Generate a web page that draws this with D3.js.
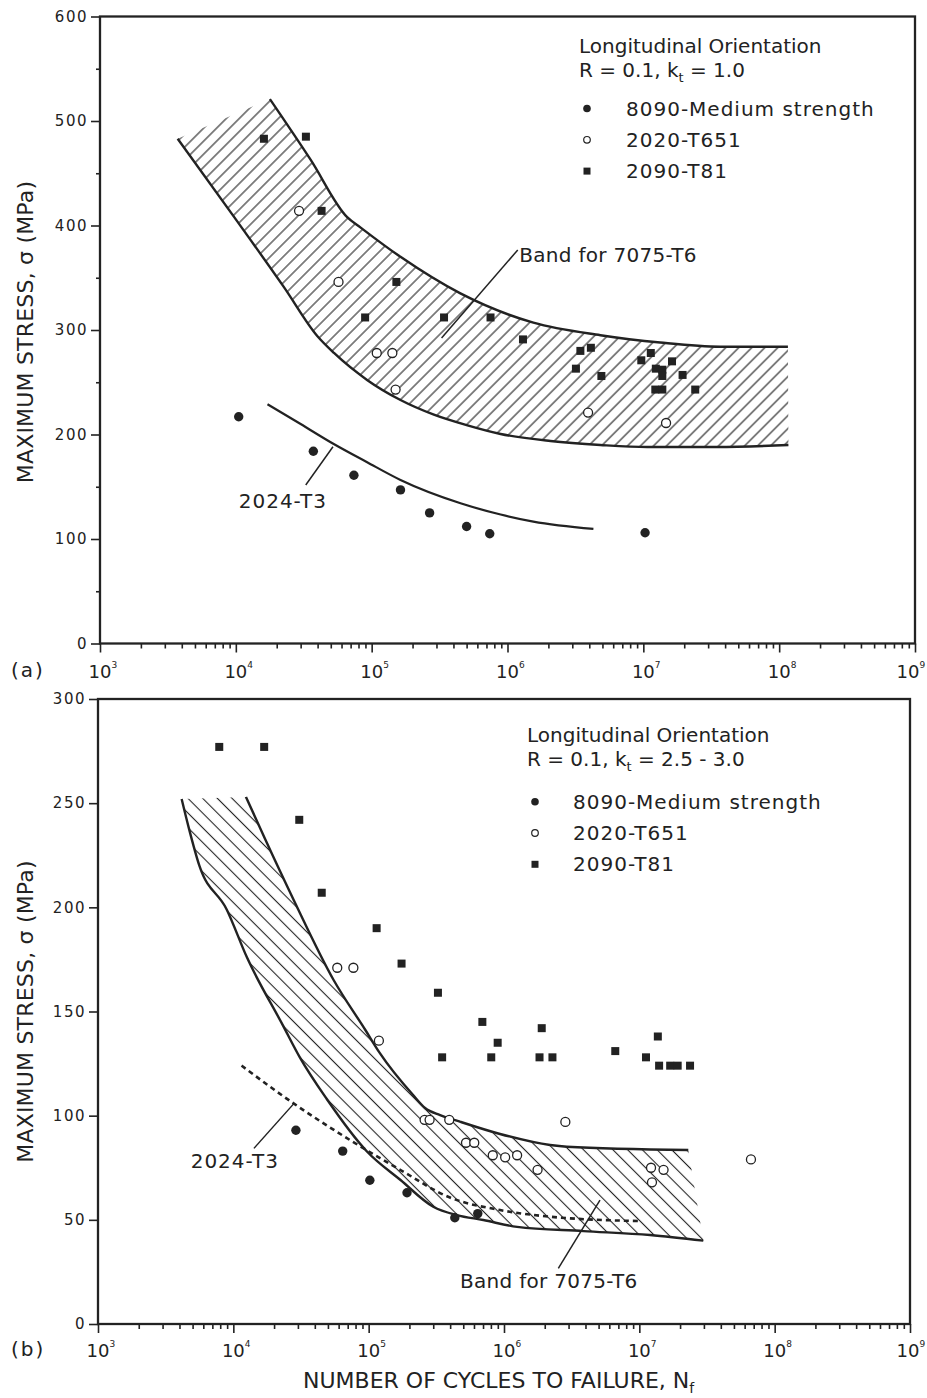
<!DOCTYPE html>
<html><head><meta charset="utf-8">
<script src="https://cdn.jsdelivr.net/npm/d3@7"></script>
<style>
body{margin:0;background:#fff}
svg{display:block}
text{font-family:"DejaVu Sans",sans-serif;fill:#222}
</style></head><body>
<svg id="c" width="927" height="1398"></svg>
<script>
// ---------- DATA : panel (a)  R = 0.1, kt = 1.0 ----------
const aBandUpper = [[1.78e4,521],[3.55e4,463],[6.6e4,408],[8.3e4,398],[1.63e5,370],[4.5e5,335],[1.55e6,307],[4.83e6,295],[1.33e7,288],[3.68e7,284],[1.16e8,284]];
const aBandLower = [[3.73e3,483],[9.73e3,408],[2.26e4,341],[3.99e4,294],[5.28e4,278],[9.3e4,252],[1.63e5,233],[2.87e5,219],[5.0e5,209],[8.9e5,200.5],[2.07e6,193.8],[4.83e6,190],[1.07e7,188],[3.48e7,188],[1.17e8,190]];
const a2024T3 = [[1.71e4,229],[3.0e4,210],[5.26e4,190.9],[9.19e4,173.7],[1.63e5,156.5],[4.51e5,134.2],[8.9e5,123.4],[1.55e6,116.6],[4.29e6,109.6]];
const a8090 = [[1.05e4,217],[3.72e4,184],[7.4e4,161],[1.63e5,147],[2.67e5,125],[5.0e5,112],[7.4e5,105],[1.03e7,106]];
const a2020 = [[2.92e4,414],[5.7e4,346],[1.09e5,278],[1.42e5,278],[1.5e5,243],[3.92e6,221],[1.47e7,211]];
const a2090 = [[1.61e4,483],[3.28e4,485],[4.28e4,414],[1.52e5,346],[8.95e4,312],[3.41e5,312],[7.5e5,312],[1.3e6,291],[3.44e6,280],[4.11e6,283],[3.19e6,263],[4.91e6,256],[9.66e6,271],[1.135e7,278],[1.236e7,263],[1.38e7,262],[1.38e7,256],[1.626e7,270],[1.945e7,257],[1.225e7,243],[1.38e7,243],[2.41e7,243]];
const aYTicks = [0,100,200,300,400,500,600];
const aYMinor = [50,150,250,350,450,550];

// ---------- DATA : panel (b)  R = 0.1, kt = 2.5 - 3.0 ----------
const bBandUpper = [[1.24e4,253],[1.71e4,233],[2.77e4,204],[5.52e4,165],[9.48e4,141],[1.21e5,130],[2.13e5,109.9],[2.61e5,103.7],[3.37e5,100.3],[4.73e5,97.1],[9.35e5,91.2],[2.19e6,85.9],[2.91e6,85.1],[2.3e7,83.5]];
const bBandLower = [[4.15e3,252],[4.65e3,239],[5.61e3,220],[8.93e3,199],[1.26e4,176],[2.34e4,143],[3.1e4,128],[4.9e4,108],[9.75e4,82.7],[1.72e5,69.1],[3.0e5,56.3],[4.48e5,52.3],[7.03e5,49.9],[1.25e6,46.6],[3.87e6,44.6],[1.2e7,42.7],[2.97e7,40]];
const b2024T3 = [[1.15e4,124],[2.77e4,106],[7.28e4,88.3],[1.72e5,73.9],[3.99e5,60.7],[9.35e5,54.7],[2.19e6,51.5],[1.01e7,49.4]];
const b8090 = [[2.9e4,93],[6.43e4,83],[1.02e5,69],[1.92e5,63],[4.33e5,51],[6.4e5,53]];
const b2020 = [[5.86e4,171],[7.71e4,171],[1.19e5,136],[2.59e5,98],[2.82e5,98],[3.94e5,98],[2.84e6,97],[5.24e5,87],[6.03e5,87],[8.26e5,81],[1.02e6,80],[1.25e6,81],[1.77e6,74],[1.22e7,75],[1.51e7,74],[1.24e7,68],[6.68e7,79]];
const b2090 = [[7.87e3,277],[1.69e4,277],[3.07e4,242],[4.5e4,207],[1.145e5,190],[1.75e5,173],[3.25e5,159],[3.49e5,128],[6.92e5,145],[8.98e5,135],[8.05e5,128],[1.9e6,142],[1.83e6,128],[2.28e6,128],[6.64e6,131],[1.12e7,128],[1.37e7,138],[1.4e7,124],[1.69e7,124],[1.92e7,124],[2.37e7,124]];
const bYTicks = [0,50,100,150,200,250,300];

const seriesNames = ["8090-Medium strength","2020-T651","2090-T81"];
const decades = [3,4,5,6,7,8,9];

// ---------- DRAWING ----------
const ink = "#222";
const svg = d3.select("#c");
const defs = svg.append("defs");
function hatch(id, angle, sp){
  const p = defs.append("pattern").attr("id",id).attr("patternUnits","userSpaceOnUse")
    .attr("width",sp).attr("height",sp).attr("patternTransform",`rotate(${angle})`);
  p.append("line").attr("x1",sp/2).attr("x2",sp/2).attr("y1",-1).attr("y2",sp+1)
    .attr("stroke",ink).attr("stroke-width",1.1);
}
hatch("hA",45,9.2);
hatch("hB",-45,10.4);

function panel(o){
  const x = d3.scaleLog().domain([1e3,1e9]).range([o.x0,o.x1]);
  const y = d3.scaleLinear().domain([0,o.ymax]).range([o.y0,o.y1]);
  const g = svg.append("g");
  const line = d3.line().x(d=>x(d[0])).y(d=>y(d[1])).curve(d3.curveMonotoneX);

  // band fill: upper curve + lower curve traversed backwards
  const up = line(o.upper);
  const tmp = svg.append("path").attr("d",line(o.lower));
  const L0 = tmp.node().getTotalLength();
  const loPts = [];
  for (let i=0;i<=200;i++){ const p = tmp.node().getPointAtLength(L0*i/200); loPts.push([p.x,p.y]); }
  tmp.remove();
  const rev = loPts.reverse().map(p=>p[0].toFixed(2)+","+p[1].toFixed(2)).join("L");
  g.append("path").attr("d", up + "L" + rev + "Z")
    .attr("fill",`url(#${o.hatch})`).attr("stroke","none");
  [o.upper,o.lower].forEach(c=>g.append("path").attr("d",line(c))
    .attr("fill","none").attr("stroke",ink).attr("stroke-width",2.4));

  // 2024-T3 curve
  g.append("path").attr("d",line(o.t3)).attr("fill","none").attr("stroke",ink)
    .attr("stroke-width",o.dashed?2.6:2.2).attr("stroke-dasharray",o.dashed?"5,4":null);

  // axes
  const minors = [];
  for (let e=3;e<9;e++) for (let k=2;k<10;k++) minors.push(k*Math.pow(10,e));
  const xa = g.append("g").attr("transform",`translate(0,${o.y0})`);
  xa.call(d3.axisBottom(x).tickValues(decades.map(e=>Math.pow(10,e))).tickSize(9).tickFormat(""));
  xa.append("g").call(d3.axisBottom(x).tickValues(minors).tickSize(5).tickFormat(""));
  xa.selectAll(".domain").remove();
  xa.selectAll("line").attr("stroke",ink).attr("stroke-width",1.6);

  const ya = g.append("g").attr("transform",`translate(${o.x0},0)`);
  ya.call(d3.axisLeft(y).tickValues(o.yticks).tickSize(9).tickPadding(4).tickFormat(d3.format("d")));
  if (o.yminor) ya.append("g").call(d3.axisLeft(y).tickValues(o.yminor).tickSize(4).tickFormat(""));
  ya.selectAll(".domain").remove();
  ya.selectAll("line").attr("stroke",ink).attr("stroke-width",1.6);
  ya.selectAll("text").attr("font-size",15).attr("letter-spacing",1.5)
    .attr("font-family","DejaVu Sans").attr("fill",ink).attr("dx",1);

  // frame
  g.append("rect").attr("x",o.x0).attr("y",o.y1).attr("width",o.x1-o.x0).attr("height",o.y0-o.y1)
    .attr("fill","none").attr("stroke",ink).attr("stroke-width",2.3);

  // x tick labels 10^n
  decades.forEach(e=>{
    const xx = Math.min(x(Math.pow(10,e)), 908);
    g.append("text").attr("x",xx).attr("y",o.y0+o.labOff).attr("text-anchor","middle")
      .attr("font-size",18).text("10");
    g.append("text").attr("x",xx+11.5).attr("y",o.y0+o.labOff-10).attr("font-size",9).text(e);
  });
  g.append("text").attr("x",11).attr("y",o.y0+o.labOff-1).attr("font-size",20)
    .attr("letter-spacing",2).text(o.tag);

  // y title
  g.append("text").attr("transform",`translate(33,${(o.y0+o.y1)/2 + o.titleShift}) rotate(-90)`)
    .attr("text-anchor","middle").attr("font-size",22).attr("letter-spacing",0.2)
    .text("MAXIMUM STRESS, σ (MPa)");

  // markers
  const mk = g.append("g");
  mk.selectAll(".sq").data(o.s2090).join("rect")
    .attr("x",d=>x(d[0])-4).attr("y",d=>y(d[1])-4).attr("width",8).attr("height",8).attr("fill",ink);
  mk.selectAll(".oc").data(o.s2020).join("circle")
    .attr("cx",d=>x(d[0])).attr("cy",d=>y(d[1])).attr("r",4.5)
    .attr("fill","#fff").attr("stroke",ink).attr("stroke-width",1.3);
  mk.selectAll(".fc").data(o.s8090).join("circle")
    .attr("cx",d=>x(d[0])).attr("cy",d=>y(d[1])).attr("r",4.7).attr("fill",ink);

  // annotations
  o.notes.forEach(n=>{
    g.append("line").attr("x1",x(n.a[0])).attr("y1",y(n.a[1])).attr("x2",x(n.b[0])).attr("y2",y(n.b[1]))
      .attr("stroke",ink).attr("stroke-width",1.5);
    g.append("text").attr("x",x(n.t[0])).attr("y",y(n.t[1])).attr("font-size",20)
      .attr("letter-spacing",n.ls).text(n.label);
  });

  // legend
  const L = o.leg;
  g.append("text").attr("x",L.tx).attr("y",L.ty).attr("font-size",20).text("Longitudinal Orientation");
  const r2 = g.append("text").attr("x",L.tx).attr("y",L.ty+24).attr("font-size",20).attr("xml:space","preserve");
  r2.append("tspan").text("R = 0.1, k");
  r2.append("tspan").attr("font-size",13).attr("dy",5).text("t");
  r2.append("tspan").attr("dy",-5).text(" = " + o.kt);
  seriesNames.forEach((s,i)=>{
    const yy = L.my + i*L.step;
    if (i===0) g.append("circle").attr("cx",L.mx).attr("cy",yy).attr("r",3.8).attr("fill",ink);
    if (i===1) g.append("circle").attr("cx",L.mx).attr("cy",yy).attr("r",3.3).attr("fill","#fff").attr("stroke",ink).attr("stroke-width",1.2);
    if (i===2) g.append("rect").attr("x",L.mx-3.5).attr("y",yy-3.5).attr("width",7).attr("height",7).attr("fill",ink);
    g.append("text").attr("x",L.lx).attr("y",yy+7).attr("font-size",20).attr("letter-spacing",1).text(s);
  });
  return {x,y};
}

panel({x0:100,x1:915,y0:643.5,y1:16.5,ymax:600,yticks:aYTicks,yminor:aYMinor,
  upper:aBandUpper,lower:aBandLower,hatch:"hA",t3:a2024T3,dashed:false,
  s8090:a8090,s2020:a2020,s2090:a2090,labOff:34.5,tag:"(a)",titleShift:2,kt:"1.0",
  notes:[{a:[1.19e6,376.6],b:[3.27e5,292.3],t:[1.22e6,365],label:"Band for 7075-T6",ls:0.3},
         {a:[5.19e4,188.3],b:[3.27e4,151.7],t:[1.05e4,129.7],label:"2024-T3",ls:1}],
  leg:{tx:579,ty:53,mx:587,my:108.5,lx:626,step:31.3}});

panel({x0:98,x1:910,y0:1324,y1:699,ymax:300,yticks:bYTicks,yminor:null,
  upper:bBandUpper,lower:bBandLower,hatch:"hB",t3:b2024T3,dashed:true,
  s8090:b8090,s2020:b2020,s2090:b2090,labOff:33,tag:"(b)",titleShift:0,kt:"2.5 - 3.0",
  notes:[{a:[5.12e6,59.5],b:[2.52e6,26.7],t:[4.73e5,17.1],label:"Band for 7075-T6",ls:0.3},
         {a:[2.81e4,105.9],b:[1.42e4,84.3],t:[4.84e3,74.7],label:"2024-T3",ls:1}],
  leg:{tx:527,ty:741.5,mx:535,my:801.7,lx:573,step:31.3}});

// x axis title (shared, under panel b)
const xt = svg.append("text").attr("x",303).attr("y",1388).attr("font-size",22);
xt.append("tspan").text("NUMBER OF CYCLES TO FAILURE, N");
xt.append("tspan").attr("font-size",14).attr("dy",5).text("f");
</script>
</body></html>
